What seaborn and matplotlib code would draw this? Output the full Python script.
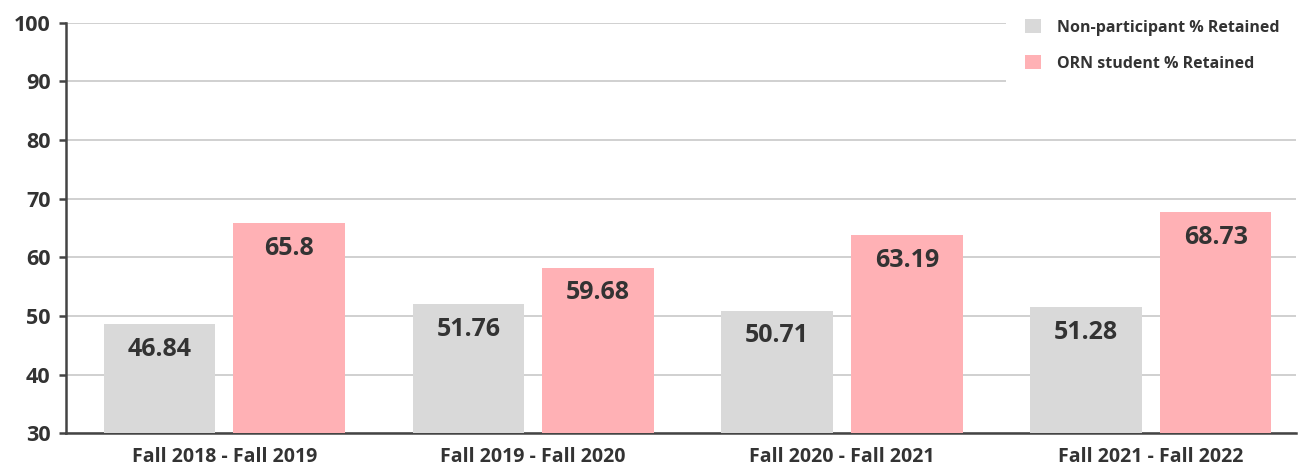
import matplotlib
matplotlib.use("Agg")
import matplotlib.pyplot as plt
import pandas as pd
import seaborn as sns
from matplotlib.patches import Patch

# ── Data ──────────────────────────────────────────────────────────────────────
COHORTS = ["Fall 2018 - Fall 2019", "Fall 2019 - Fall 2020",
           "Fall 2020 - Fall 2021", "Fall 2021 - Fall 2022"]
SERIES = ["Non-participant % Retained", "ORN student % Retained"]
NON_PART_LABELS = ["46.84", "51.76", "50.71", "51.28"]
ORN_LABELS      = ["65.8", "59.68", "63.19", "68.73"]
# bar heights as drawn in the picture
NON_PART = [48.6, 52.0, 50.85, 51.5]
ORN      = [65.85, 58.2, 63.8, 67.7]

GREY = "#d9d9d9"
PINK = "#ffb1b5"
INK  = "#333333"

df = pd.DataFrame({
    "cohort": COHORTS * 2,
    "series": [SERIES[0]] * 4 + [SERIES[1]] * 4,
    "value":  NON_PART + ORN,
})

# ── Style ─────────────────────────────────────────────────────────────────────
sns.set_theme(style="white")
plt.rcParams["font.family"] = ["Open Sans", "DejaVu Sans"]

fig = plt.figure(figsize=(12.99, 4.66), dpi=100)
ax = fig.add_axes([0.0508, 0.0702, 0.9469, 0.8811])

sns.barplot(
    data=df, x="cohort", y="value", hue="series", order=COHORTS,
    hue_order=SERIES, palette=[GREY, PINK], width=0.84, gap=0.14,
    saturation=1, legend=False, ax=ax, zorder=3, linewidth=0,
)

for cont, labels in zip(ax.containers, [NON_PART_LABELS, ORN_LABELS]):
    ax.bar_label(cont, labels=labels, padding=-27, fontsize=18,
                 fontweight="bold", color=INK)

ax.set_ylim(30, 100)
ax.set_yticks(range(30, 101, 10))
ax.set_xlim(-0.513, 3.47)
ax.set_xlabel("")
ax.set_ylabel("")
ax.grid(axis="y", color="#c8c8c8", lw=1.2, zorder=0)
ax.set_axisbelow(True)

for side in ["top", "right"]:
    ax.spines[side].set_visible(False)
for side in ["left", "bottom"]:
    ax.spines[side].set_color("#444444")
    ax.spines[side].set_linewidth(1.8)

ax.tick_params(axis="y", length=5, width=1.8, color="#444444",
               labelsize=15.5, labelcolor=INK, pad=6, left=True)
ax.tick_params(axis="x", length=0, labelsize=14, labelcolor=INK, pad=10)
for lbl in ax.get_yticklabels() + ax.get_xticklabels():
    lbl.set_fontweight("bold")

handles = [Patch(facecolor=GREY, edgecolor="none"),
           Patch(facecolor=PINK, edgecolor="none")]
leg = fig.legend(
    handles, SERIES, loc="upper right", bbox_to_anchor=(1.0, 1.0),
    frameon=True, facecolor="white", edgecolor="none", framealpha=1,
    fancybox=False, fontsize=11.5, handlelength=1.0, handleheight=1.0,
    labelspacing=1.2, borderpad=1.2, borderaxespad=0.0, handletextpad=1.0,
)
for t in leg.get_texts():
    t.set_color(INK)
    t.set_fontweight("bold")
leg.set_zorder(10)

fig.savefig("out.png", dpi=100)
plt.close()
